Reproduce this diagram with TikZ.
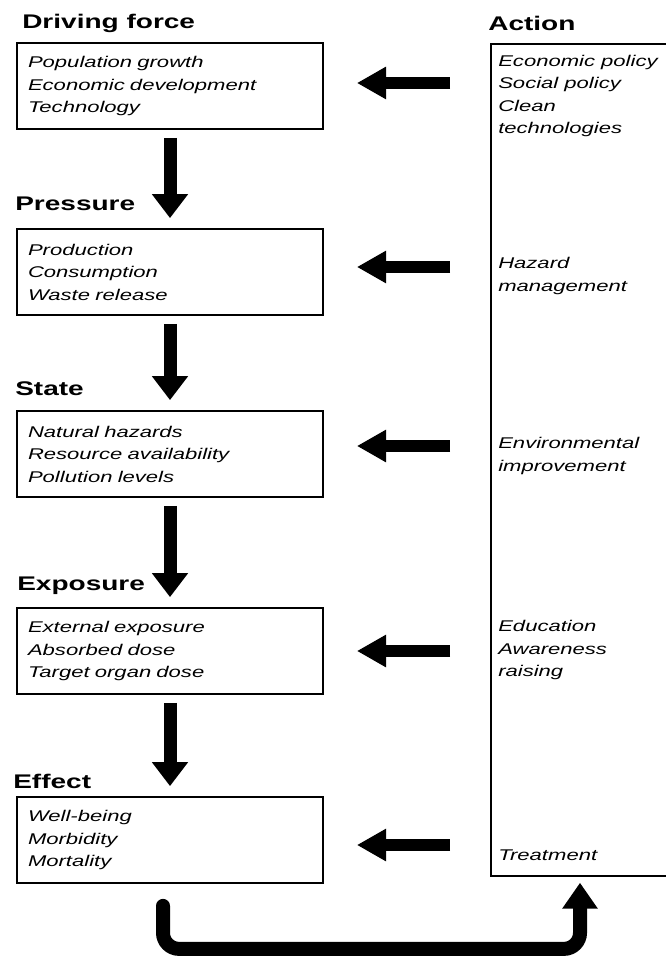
\documentclass[tikz,border=0pt]{standalone}
\usepackage{fontspec}
\setmainfont{Liberation Sans}[FakeStretch=1.42]
\usepackage{tikz}
\usetikzlibrary{arrows.meta,positioning,calc}

\begin{document}
\begin{tikzpicture}[x=0.75pt, y=-0.75pt,
    hdr/.style={anchor=base west, inner sep=0pt, font=\fontsize{14.8pt}{17pt}\selectfont\bfseries},
    box/.style={draw, line width=1.3pt, minimum width=229.5pt, minimum height=64.5pt, text width=213pt, inner xsep=8pt, align=left, font=\fontsize{11.65pt}{16.9pt}\selectfont\itshape},
    act/.style={anchor=west, inner sep=0pt, align=left, font=\fontsize{11.65pt}{16.9pt}\selectfont\itshape},
    arr/.style={-{Triangle[width=26pt, length=18pt]}, line width=9.75pt, shorten <=6pt, shorten >=7.5pt},
    larr/.style={-{Triangle[width=23pt, length=22pt]}, line width=9pt, shorten <=30pt, shorten >=24.75pt},
    fb/.style={-{Triangle[width=25.5pt, length=19.5pt]}, line width=10.5pt, rounded corners=12pt, line cap=round}
]
\useasboundingbox (0,0) rectangle (666,962);
\clip (0,0) rectangle (666,962);

% headings
\node[hdr] (hdrive) at (22,29) {Driving force};
\node[hdr] (hpress) at (15,211) {Pressure};
\node[hdr] (hstate) at (15,395) {State};
\node[hdr] (hexpo) at (17,590) {Exposure};
\node[hdr] (heff) at (13,788) {Effect};
\node[hdr] (hact) at (488,31) {Action};

% chain of boxes
\node[box] (drive) at (170,86) {Population growth\\Economic development\\Technology};
\node[box] (press) at (170,272) {Production\\Consumption\\Waste release};
\node[box] (state) at (170,454) {Natural hazards\\Resource availability\\Pollution levels};
\node[box] (expo) at (170,651) {External exposure\\Absorbed dose\\Target organ dose};
\node[box] (eff) at (170,840) {Well-being\\Morbidity\\Mortality};

% action column
\node[draw, line width=1.3pt, anchor=north west, minimum width=157.5pt, minimum height=624pt] (action) at (490,43) {};
\node[act] (a1) at (498,96) {Economic policy\\Social policy\\Clean\\technologies};
\node[act] (a2) at (498,276) {Hazard\\management};
\node[act] (a3) at (498,456) {Environmental\\improvement};
\node[act] (a4) at (498,650) {Education\\Awareness\\raising};
\node[act] (a5) at (498,855) {Treatment};

\draw[arr] (drive) -- (press);
\draw[arr] (press) -- (state);
\draw[arr] (state) -- (expo);
\draw[arr] (expo) -- (eff);

\foreach \b/\dy in {drive/-3,press/-5,state/-8,expo/0,eff/5}
  \draw[larr] ($(action.west |- \b.east)+(0,\dy)$) -- ($(\b.east)+(0,\dy)$);

\draw[fb] ($(eff.south)+(-7,22)$) -- ++(0,43) -| ($(action.south west)+(90,6)$);
\end{tikzpicture}
\end{document}
